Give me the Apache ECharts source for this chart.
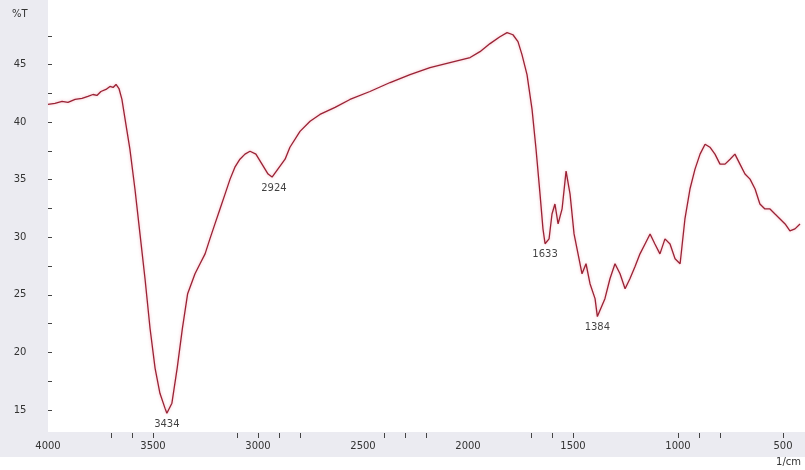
<!DOCTYPE html>
<html>
<head>
<meta charset="utf-8">
<script src="https://cdn.jsdelivr.net/npm/echarts@6/dist/echarts.min.js"></script>
<style>
  html, body { margin: 0; padding: 0; background: #ffffff; }
  #chart { width: 805px; height: 470px; }
</style>
</head>
<body>
<div id="chart"></div>
<script>
// FT-IR spectrum: wavenumber (1/cm) vs transmittance (%T)
const wavenumber = [
  4000, 3967, 3933, 3905, 3871, 3838, 3810, 3786, 3767, 3748, 3724, 3705, 3690, 3676, 3662,
  3648, 3629, 3610, 3586, 3562, 3538, 3514, 3490, 3467, 3443, 3434, 3410, 3385, 3360,
  3335, 3300, 3276, 3252, 3229, 3205, 3181, 3157, 3133, 3110, 3086, 3062, 3038, 3010,
  2981, 2952, 2933, 2924, 2871, 2848, 2800, 2752, 2705, 2633, 2562, 2467, 2371, 2276,
  2181, 2086, 1990, 1943, 1895, 1848, 1814, 1786, 1762, 1743, 1719, 1695, 1676, 1657,
  1643, 1633, 1614, 1600, 1586, 1571, 1552, 1533, 1514, 1495, 1476, 1457, 1438, 1419,
  1395, 1384, 1348, 1324, 1300, 1276, 1252, 1229, 1205, 1181, 1157, 1133, 1110, 1086,
  1062, 1038, 1014, 990, 967, 943, 919, 895, 871, 848, 824, 800, 776, 752, 729, 705,
  681, 657, 633, 610, 586, 562, 538, 514, 490, 467, 443, 419, 400
];
const transmittance = [
  41.54, 41.63, 41.80, 41.71, 41.97, 42.06, 42.23, 42.40, 42.32, 42.66, 42.84, 43.10, 43.01, 43.27, 42.92,
  41.97, 39.81, 37.65, 34.19, 30.29, 26.40, 22.08, 18.62, 16.45, 15.16, 14.72, 15.59, 18.62, 22.08,
  25.10, 26.83, 27.70, 28.56, 29.86, 31.16, 32.46, 33.75, 35.05, 36.09, 36.78, 37.22, 37.47, 37.22,
  36.35, 35.49, 35.23, 35.23, 36.78, 37.82, 39.20, 40.07, 40.67, 41.28, 41.97, 42.66, 43.44, 44.13,
  44.74, 45.17, 45.61, 46.12, 46.82, 47.42, 47.77, 47.59, 46.99, 45.86, 44.13, 41.11, 37.65, 33.75,
  30.73, 29.44, 29.86, 32.02, 32.89, 31.16, 32.46, 35.74, 33.75, 30.29, 28.56, 26.83, 27.70, 25.97,
  24.67, 23.11, 24.67, 26.40, 27.70, 26.83, 25.53, 26.40, 27.44, 28.56, 29.42, 30.29, 29.42, 28.56,
  29.86, 29.42, 28.13, 27.70, 31.59, 34.19, 35.92, 37.22, 38.08, 37.82, 37.22, 36.35, 36.35, 36.78,
  37.22, 36.35, 35.49, 35.05, 34.19, 32.89, 32.46, 32.46, 32.02, 31.59, 31.16, 30.55, 30.73, 31.16
];

// Annotated band positions (1/cm)
const peakWavenumbers = [3434, 2924, 1633, 1384];

// Axis labels and ticks
const xLabelValues = [4000, 3500, 3000, 2500, 2000, 1500, 1000, 500];
const xTickValues = [3700, 3600, 3500, 3100, 3000, 2900, 2800, 2400, 2300, 2200,
                     1700, 1600, 1500, 1000, 900, 800, 500];
const yLabelValues = [15, 20, 25, 30, 35, 40, 45];
const yTickValues = [15, 17.5, 20, 22.5, 25, 27.5, 30, 32.5, 35, 37.5, 40, 42.5, 45, 47.5];

const spectrum = wavenumber.map((w, i) => [w, transmittance[i]]);
const peaks = peakWavenumbers.map(w => [w, transmittance[wavenumber.indexOf(w)]]);

const chart = echarts.init(document.getElementById('chart'), null, { renderer: 'canvas' });

const bandColor = '#ebebf1';
const textColor = '#333333';

chart.setOption({
  animation: false,
  backgroundColor: '#ffffff',
  grid: { left: 48, right: 1, top: 7, bottom: 37 },
  graphic: [
    // grey axis bands
    { type: 'rect', z: -1, shape: { x: 0, y: 0, width: 48, height: 457 }, style: { fill: bandColor } },
    { type: 'rect', z: -1, shape: { x: 0, y: 432, width: 805, height: 25 }, style: { fill: bandColor } },
    { type: 'text', left: 12, top: 9, style: { text: '%T', fontSize: 10, fill: textColor, fontFamily: 'DejaVu Sans' } },
    { type: 'text', right: 4, top: 457, style: { text: '1/cm', fontSize: 10, fill: textColor, fontFamily: 'DejaVu Sans' } }
  ],
  xAxis: {
    type: 'value',
    inverse: true,
    min: 400,
    max: 4000,
    axisLine: { show: false },
    splitLine: { show: false },
    axisTick: { show: true, inside: false, length: 5, customValues: xTickValues,
                lineStyle: { color: '#444', width: 1 } },
    axisLabel: { customValues: xLabelValues, margin: 8, fontSize: 10, color: textColor,
                 fontFamily: 'DejaVu Sans', formatter: v => String(v) }
  },
  yAxis: {
    type: 'value',
    min: 13,
    max: 50,
    axisLine: { show: false },
    splitLine: { show: false },
    axisTick: { show: true, inside: true, length: 4, customValues: yTickValues,
                lineStyle: { color: '#444', width: 1 } },
    axisLabel: { customValues: yLabelValues, margin: 28, align: 'center', fontSize: 10,
                 color: textColor, fontFamily: 'DejaVu Sans' }
  },
  series: [
    {
      type: 'line',
      data: spectrum,
      showSymbol: false,
      smooth: false,
      lineStyle: { color: '#9a2234', width: 1.3, shadowColor: 'rgba(230,120,140,0.6)', shadowBlur: 3 },
      silent: true
    },
    {
      type: 'scatter',
      data: peaks,
      symbolSize: 0,
      label: {
        show: true,
        position: 'bottom',
        distance: 6,
        fontSize: 10,
        color: '#111',
        fontFamily: 'DejaVu Sans',
        formatter: p => String(p.value[0])
      },
      silent: true
    }
  ]
});
</script>
</body>
</html>
